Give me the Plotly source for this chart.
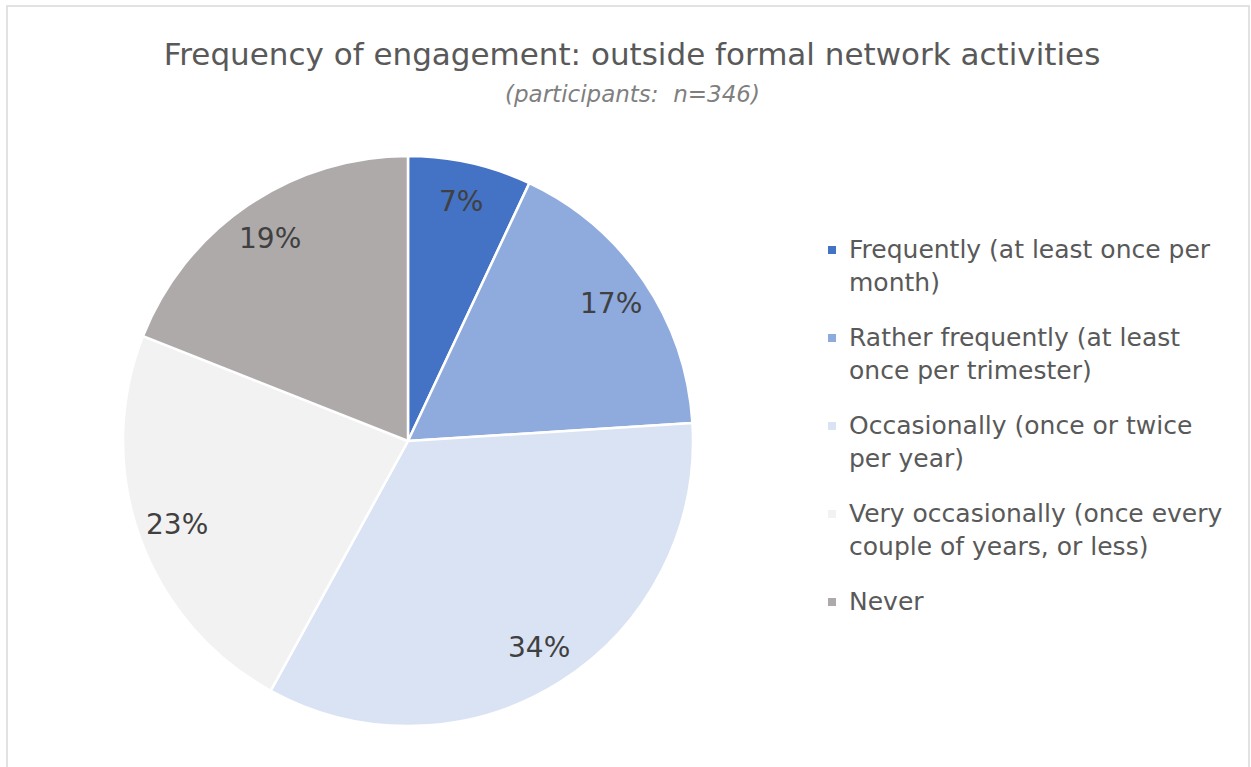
import math
import plotly.graph_objects as go

# Survey response shares (percent of participants, n=346)
categories = [
    "Frequently (at least once per<br>month)",
    "Rather frequently (at least<br>once per trimester)",
    "Occasionally (once or twice<br>per year)",
    "Very occasionally (once every<br>couple of years, or less)",
    "Never",
]
shares = [7, 17, 34, 23, 19]
slice_colors = ["#4472C4", "#8FAADC", "#DAE3F3", "#F2F2F2", "#AEAAAA"]

title_text = "Frequency of engagement: outside formal network activities"
subtitle_text = "(participants:  n=346)"

W, H = 1251, 767
cx, cy, R = 408, 441, 285      # pie centre / radius in pixels
label_r = 0.86 * R             # radius at which percentage labels sit
FONT = "DejaVu Sans"


def px(x):
    return x / W


def py(y):
    return 1 - y / H


fig = go.Figure(
    go.Pie(
        labels=[c.replace("<br>", " ") for c in categories],
        values=shares,
        sort=False,
        direction="clockwise",
        rotation=0,
        marker=dict(colors=slice_colors, line=dict(color="white", width=2.5)),
        textinfo="none",
        hoverinfo="label+percent",
        showlegend=False,
        domain=dict(x=[px(cx - R), px(cx + R)], y=[py(cy + R), py(cy - R)]),
    )
)

annotations = []

# Percentage labels placed near the outer edge of each slice
total = sum(shares)
cum = 0
for v in shares:
    theta = 2 * math.pi * (cum + v / 2) / total
    cum += v
    annotations.append(dict(
        text=f"{v}%",
        xref="paper", yref="paper",
        x=px(cx + label_r * math.sin(theta)),
        y=py(cy - label_r * math.cos(theta)),
        xanchor="center", yanchor="middle",
        showarrow=False,
        font=dict(family=FONT, size=28, color="#404040"),
    ))

# Legend on the right: square swatch + wrapped category text
shapes = []
leg_x_swatch, leg_x_text, leg_y0, leg_pitch = 828, 847, 250, 88
for i, (cat, col) in enumerate(zip(categories, slice_colors)):
    yc = leg_y0 + i * leg_pitch
    shapes.append(dict(
        type="rect", xref="paper", yref="paper",
        x0=px(leg_x_swatch), x1=px(leg_x_swatch + 8),
        y0=py(yc + 4), y1=py(yc - 4),
        fillcolor=col, line=dict(width=0),
    ))
    annotations.append(dict(
        text=cat,
        xref="paper", yref="paper",
        x=px(leg_x_text), y=py(yc - 17),
        xanchor="left", yanchor="top", align="left",
        showarrow=False,
        font=dict(family=FONT, size=25, color="#595959"),
    ))

# Subtitle
annotations.append(dict(
    text="<i>" + subtitle_text + "</i>",
    xref="paper", yref="paper",
    x=px(632), y=py(94),
    xanchor="center", yanchor="middle",
    showarrow=False,
    font=dict(family=FONT, size=23, color="#7f7f7f"),
))

# Chart-area border
shapes.append(dict(
    type="rect", xref="paper", yref="paper",
    x0=px(7), x1=px(1249), y0=-0.01, y1=py(6),
    line=dict(color="#d9d9d9", width=1.5),
    fillcolor="rgba(0,0,0,0)", layer="below",
))

fig.update_layout(
    width=W,
    height=H,
    margin=dict(l=0, r=0, t=0, b=0),
    paper_bgcolor="white",
    font=dict(family=FONT, color="#595959"),
    title=dict(
        text=title_text,
        x=px(632), xanchor="center",
        y=py(43), yanchor="top",
        font=dict(family=FONT, size=31, color="#595959"),
    ),
    annotations=annotations,
    shapes=shapes,
)

fig.write_html("out.html")
